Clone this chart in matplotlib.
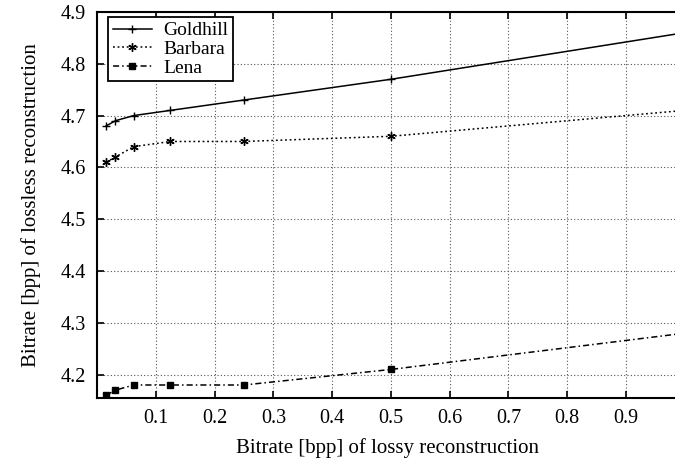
import matplotlib
matplotlib.use("Agg")
from matplotlib import pyplot as plt

plt.rcParams["font.family"] = ["Liberation Serif", "DejaVu Serif"]

# lossy bitrates [bpp]
rates = [0.015625, 0.03125, 0.0625, 0.125, 0.25, 0.5, 1.0]

goldhill = [4.68, 4.69, 4.70, 4.71, 4.73, 4.77, 4.86]
barbara = [4.61, 4.62, 4.64, 4.65, 4.65, 4.66, 4.71]
lena = [4.16, 4.17, 4.18, 4.18, 4.18, 4.21, 4.28]

x_ticks = [0.1, 0.2, 0.3, 0.4, 0.5, 0.6, 0.7, 0.8, 0.9]
y_ticks = [4.2, 4.3, 4.4, 4.5, 4.6, 4.7, 4.8, 4.9]

fig = plt.figure(figsize=(6.75, 4.59), dpi=100)
ax = fig.add_axes([0.1437, 0.133, 0.862, 0.841])

ax.plot(rates, goldhill, color="black", linestyle="-", linewidth=1.1,
        marker="+", markersize=6, markeredgewidth=1.0, label="Goldhill")
ax.plot(rates, barbara, color="black", linestyle=(0, (1.2, 1.8)), linewidth=1.1,
        marker=(6, 2, 0), markersize=6, markeredgewidth=1.0, label="Barbara")
ax.plot(rates, lena, color="black", linestyle=(0, (4, 2, 1, 2)), linewidth=1.1,
        marker="s", markersize=4.5, label="Lena")

ax.set_xlim(0, 0.99)
ax.set_ylim(4.155, 4.9)
ax.set_xticks(x_ticks)
ax.set_yticks(y_ticks)
ax.set_xticklabels([f"{t:.1f}" for t in x_ticks])
ax.set_yticklabels([f"{t:.1f}" for t in y_ticks])

ax.grid(True, color="#555555", linestyle=(0, (1, 2)), linewidth=0.8)
ax.tick_params(direction="in", length=5, width=1.2, top=True, labelsize=14.5, pad=8)
for s in ax.spines.values():
    s.set_linewidth(1.5)
ax.spines["right"].set_visible(False)

ax.set_xlabel("Bitrate [bpp] of lossy reconstruction", fontsize=15, labelpad=7)
ax.set_ylabel("Bitrate [bpp] of lossless reconstruction", fontsize=15, labelpad=14)

leg = ax.legend(loc="upper left", bbox_to_anchor=(0.019, 0.987), borderaxespad=0,
                fontsize=14, frameon=True, fancybox=False, edgecolor="black",
                framealpha=1, handlelength=2.0, borderpad=0.25, labelspacing=0.05,
                handletextpad=0.6)
leg.get_frame().set_linewidth(1.3)

fig.savefig("out.png", dpi=100)
